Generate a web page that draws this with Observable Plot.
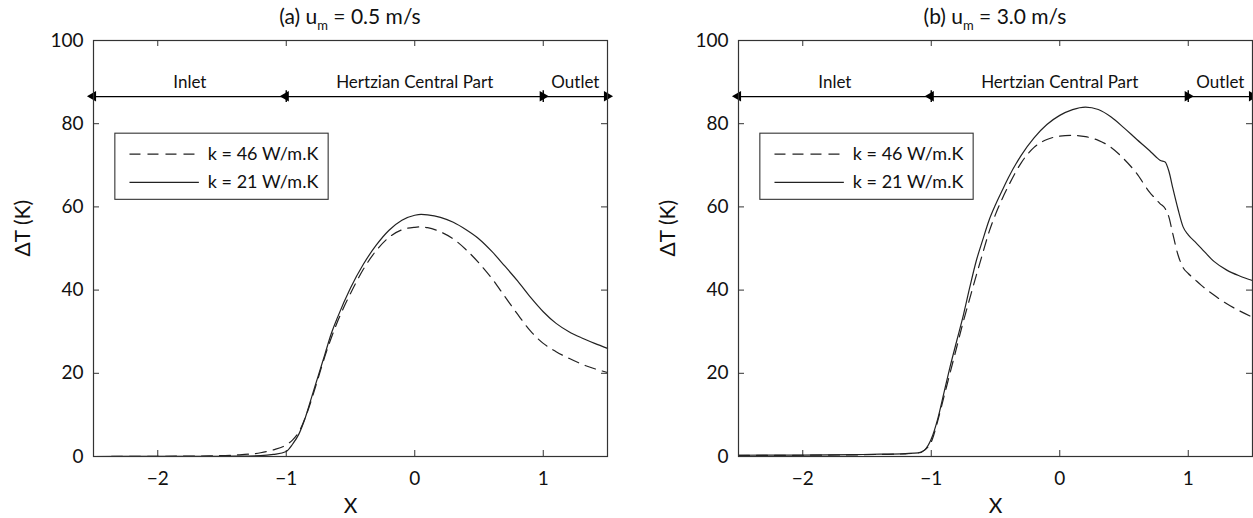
<!DOCTYPE html>
<html><head><meta charset="utf-8">
<script src="https://cdn.jsdelivr.net/npm/d3@7"></script>
<script src="https://cdn.jsdelivr.net/npm/@observablehq/plot@0.6"></script>
<style>
body{margin:0;background:#fff;}
#wrap{position:relative;width:1253px;height:518px;font-family:Lato,"Open Sans",sans-serif;color:#111;overflow:hidden;}
.panel{position:absolute;top:0;}
.title{position:absolute;top:4px;width:514px;text-align:center;font-size:21px;line-height:24px;white-space:nowrap;}
.title .sub{font-size:13px;position:relative;top:6px;}
</style></head><body><div id="wrap"></div>
<script>
// ---- data ----
const xTicks = [-2, -1, 0, 1];
const yTicks = [0, 20, 40, 60, 80, 100];
const seriesNames = ["k = 46 W/m.K", "k = 21 W/m.K"];
const regionNames = ["Inlet", "Hertzian Central Part", "Outlet"];
const regionBounds = [-2.5, -1, 1, 1.5];

// Panel (a) u_m = 0.5 m/s
const xA = [-2.5,-2.0,-1.6,-1.4,-1.2,-1.1,-1.0,-0.95,-0.9,-0.85,-0.8,-0.75,-0.7,-0.65,-0.6,-0.5,-0.4,-0.3,-0.2,-0.1,0,0.05,0.1,0.2,0.3,0.4,0.5,0.6,0.7,0.8,0.9,1.0,1.1,1.2,1.3,1.4,1.5];
const aK46 = [0,0.05,0.15,0.35,0.9,1.6,2.8,4,6,9.5,14,19,24,28.5,32.5,39.2,45,49.5,52.7,54.5,55.1,55.2,55,54,52.3,49.7,46.5,42.8,38.5,34.2,30.2,27.2,25.2,23.6,22.2,21.1,20.2];
const aK21 = [0,0.02,0.05,0.1,0.2,0.5,1.2,3,5.5,9.5,14.5,19.5,24.5,29.5,33.5,40.5,46.2,50.8,54.4,56.8,58,58.2,58.1,57.5,56.3,54.5,52.3,49.3,45.8,42.2,38.3,34.8,32,30,28.5,27.2,26];

// Panel (b) u_m = 3.0 m/s
const xB = [-2.5,-2.0,-1.6,-1.4,-1.2,-1.1,-1.05,-1.0,-0.95,-0.9,-0.85,-0.8,-0.75,-0.7,-0.65,-0.6,-0.55,-0.5,-0.45,-0.4,-0.3,-0.2,-0.1,0,0.1,0.2,0.3,0.4,0.5,0.6,0.7,0.75,0.78,0.82,0.85,0.88,0.92,0.96,1.0,1.05,1.1,1.2,1.3,1.4,1.5];
const bK46 = [0.25,0.3,0.4,0.5,0.65,0.9,1.6,3.5,8.5,14.5,20.5,26.5,32.5,38,43.5,48.8,54,58.2,61.8,65,70.6,74.3,76.2,77,77.2,76.9,76,74.3,71.5,68,63.5,61.8,60.8,59.6,57.5,53.5,48.5,45.4,44,42.6,41.2,38.8,36.7,35,33.5];
const bK21 = [0.3,0.35,0.45,0.55,0.7,0.85,1.6,4.2,9,15.5,22,28,34,40.7,47,52,56.8,60.5,63.8,67,72.4,76.6,79.8,82,83.4,84,83.4,81.6,79,76.2,73.5,72,71.2,70.8,68.5,64.5,59.5,55.2,53.3,51.7,50.1,46.9,44.8,43.4,42.3];

// ---- layout constants ----
const H = 518, MT = 40, MB = 62;
const innerH = H - MT - MB, innerW = 514;
const arrowY = 86.5, labelY = 88.6;
const legend = {x1: -2.33, x2: -0.67, y1: 61.7, y2: 77.6, rows: [72.7, 65.9], lx1: -2.22, lx2: -1.68, tx: -1.61};
const ink = "#222";
const dash = "11,7";
const fmt = d => (d < 0 ? "\u2212" : "") + Math.abs(d);

function makePanel(title, sub, rest, xs, k46, k21, left, width, ml, mr) {
  const d46 = xs.map((x, i) => ({x, y: k46[i]}));
  const d21 = xs.map((x, i) => ({x, y: k21[i]}));
  const regions = regionNames.map((name, i) => ({name, x1: regionBounds[i], x2: regionBounds[i + 1]}));
  const heads = [
    {x: regionBounds[0], r: -90, dx: 5.8},
    {x: regionBounds[1], r: -90, dx: 6.2},
    {x: regionBounds[2], r: 90, dx: -6.2},
    {x: regionBounds[3], r: 90, dx: -5.8}
  ];
  const legRows = seriesNames.map((s, i) => ({s, y: legend.rows[i], dashed: i === 0}));
  const plot = Plot.plot({
    width, height: H, marginLeft: ml, marginRight: mr, marginTop: MT, marginBottom: MB,
    x: {domain: [-2.5, 1.5]},
    y: {domain: [0, 100]},
    style: {fontFamily: "Lato, 'Open Sans', sans-serif", fontSize: "19px", color: "#111", background: "white", overflow: "visible"},
    marks: [
      Plot.axisX(xTicks, {tickSize: 0, tickPadding: 15, fontSize: 19, tickFormat: fmt, label: null}),
      Plot.axisY(yTicks, {tickSize: 0, tickPadding: 10, fontSize: 19, tickFormat: fmt, label: null}),
      // inward ticks on four sides
      Plot.ruleX(xTicks, {x: d => d, insetTop: innerH - 6, stroke: "#333"}),
      Plot.ruleX(xTicks, {x: d => d, insetBottom: innerH - 6, stroke: "#333"}),
      Plot.ruleY(yTicks, {y: d => d, insetRight: innerW - 6, stroke: "#333"}),
      Plot.ruleY(yTicks, {y: d => d, insetLeft: innerW - 6, stroke: "#333"}),
      // curves
      Plot.line(d46, {x: "x", y: "y", stroke: ink, strokeWidth: 1.2, strokeDasharray: dash, curve: "monotone-x"}),
      Plot.line(d21, {x: "x", y: "y", stroke: ink, strokeWidth: 1.2, curve: "monotone-x"}),
      // region arrows
      Plot.link(regions, {x1: "x1", x2: "x2", y1: arrowY, y2: arrowY, stroke: "#000", strokeWidth: 1.4}),
      Plot.ruleX(regionBounds.slice(1, 3), {x: d => d, y1: arrowY - 1.4, y2: arrowY + 1.4, stroke: "#000", strokeWidth: 1.4}),
      Plot.dot(heads, {x: "x", y: arrowY, symbol: "triangle", r: 3.9, fill: "#000", stroke: "none", rotate: "r", dx: "dx"}),
      Plot.text(regions, {x: d => (d.x1 + d.x2) / 2, y: labelY, text: "name", lineAnchor: "bottom", fontSize: 17, fill: "#111"}),
      // legend
      Plot.rect([legend], {x1: "x1", x2: "x2", y1: "y1", y2: "y2", fill: "white", stroke: "#333", strokeWidth: 1.1}),
      Plot.link(legRows.filter(r => r.dashed), {x1: legend.lx1, x2: legend.lx2, y1: "y", y2: "y", stroke: ink, strokeWidth: 1.2, strokeDasharray: dash}),
      Plot.link(legRows.filter(r => !r.dashed), {x1: legend.lx1, x2: legend.lx2, y1: "y", y2: "y", stroke: ink, strokeWidth: 1.2}),
      Plot.text(legRows, {x: legend.tx, y: "y", text: "s", textAnchor: "start", lineAnchor: "middle", fontSize: 18, fill: "#111"}),
      // axis labels
      Plot.text(["\u0394T (K)"], {frameAnchor: "left", text: d => d, rotate: -90, dx: -70, dy: 8, fontSize: 21, fill: "#111"}),
      Plot.text(["X"], {frameAnchor: "bottom", text: d => d, dy: 50, lineAnchor: "middle", fontSize: 21, fill: "#111"}),
      Plot.frame({stroke: "#333", strokeWidth: 1.2})
    ]
  });
  const div = document.createElement("div");
  div.className = "panel";
  div.style.left = left + "px";
  div.appendChild(plot);
  const t = document.createElement("div");
  t.className = "title";
  t.style.left = ml + "px";
  t.innerHTML = `${title}<span class="sub">${sub}</span>${rest}`;
  div.appendChild(t);
  document.getElementById("wrap").appendChild(div);
}

makePanel("(a) u", "m", " = 0.5 m/s", xA, aK46, aK21, 0, 620, 93, 13);
makePanel("(b) u", "m", " = 3.0 m/s", xB, bK46, bK21, 630, 623, 108, 1);
</script></body></html>
